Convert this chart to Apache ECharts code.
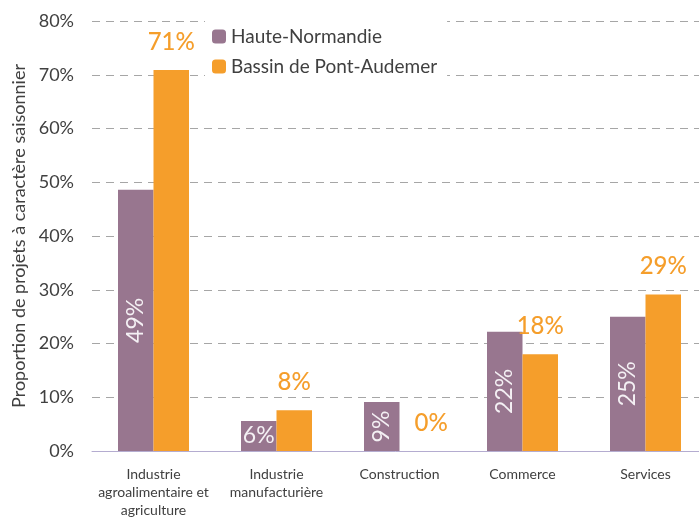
<!DOCTYPE html>
<html>
<head>
<meta charset="utf-8">
<script src="https://cdn.jsdelivr.net/npm/echarts@6/dist/echarts.min.js"></script>
<style>
  html, body { margin: 0; padding: 0; background: #fff; }
  #graph { width: 699px; height: 524px; }
</style>
</head>
<body>
<div id="graph"></div>
<script>
var categories = ['Industrie\nagroalimentaire et\nagriculture', 'Industrie\nmanufacturière', 'Construction', 'Commerce', 'Services'];
var hauteNormandie = [48.6, 5.6, 9.1, 22.2, 25.0];
var pontAudemer = [70.9, 7.6, 0, 18.0, 29.1];
var seriesNames = ['Haute-Normandie', 'Bassin de Pont-Audemer'];

var font = 'Lato, "Liberation Sans Narrow", sans-serif';
var dom = document.getElementById('graph');
var chart = echarts.init(dom);

function pct(p) { return Math.round(p.value) + '%'; }

// short purple bars get a horizontal label, as in the original
var purpleData = hauteNormandie.map(function (v) {
    return v < 8 ? { value: v, label: { rotate: 0, position: 'inside' } } : v;
});
// the zero label sits a little to the right of its (empty) bar
var orangeData = pontAudemer.map(function (v) {
    return v === 0 ? { value: v, label: { offset: [14, 0] } } : v;
});

chart.setOption({
    textStyle: { fontFamily: font },
    grid: { left: 92, top: 21, width: 615, height: 430, outerBoundsMode: 'none', containLabel: false },
    legend: {
        orient: 'vertical',
        left: 205,
        top: 21,
        itemWidth: 14,
        itemHeight: 14,
        itemGap: 11,
        backgroundColor: '#fff',
        padding: [6, 10, 6, 7],
        textStyle: { fontSize: 19, color: '#404040', fontFamily: font },
        data: seriesNames
    },
    xAxis: {
        type: 'category',
        data: categories,
        axisLine: { lineStyle: { color: '#b4acd0' } },
        axisTick: { length: 5, lineStyle: { color: '#b4acd0' } },
        axisLabel: { fontSize: 14, color: '#404040', lineHeight: 18, margin: 14, interval: 0 }
    },
    yAxis: {
        type: 'value',
        min: 0,
        max: 80,
        interval: 10,
        name: 'Proportion de projets à caractère saisonnier',
        nameLocation: 'middle',
        nameGap: 64,
        nameTextStyle: { fontSize: 18, color: '#404040' },
        axisLine: { show: false },
        axisTick: { show: false },
        axisLabel: { formatter: '{value}%', fontSize: 18, color: '#404040', margin: 18 },
        splitLine: { lineStyle: { color: '#a6a6a6', type: [8, 6], width: 1 } }
    },
    series: [
        {
            name: seriesNames[0],
            type: 'bar',
            data: purpleData,
            barWidth: 35.5,
            barGap: '0%',
            itemStyle: { color: '#98768f' },
            label: {
                show: true,
                position: 'inside',
                rotate: 90,
                color: '#f4f0f4',
                fontSize: 23,
                formatter: pct
            }
        },
        {
            name: seriesNames[1],
            type: 'bar',
            data: orangeData,
            barWidth: 35.5,
            itemStyle: { color: '#f59e2b' },
            label: {
                show: true,
                position: 'top',
                distance: 16,
                color: '#f59e2b',
                fontSize: 24,
                fontWeight: 500,
                formatter: pct
            }
        }
    ]
});
</script>
</body>
</html>
